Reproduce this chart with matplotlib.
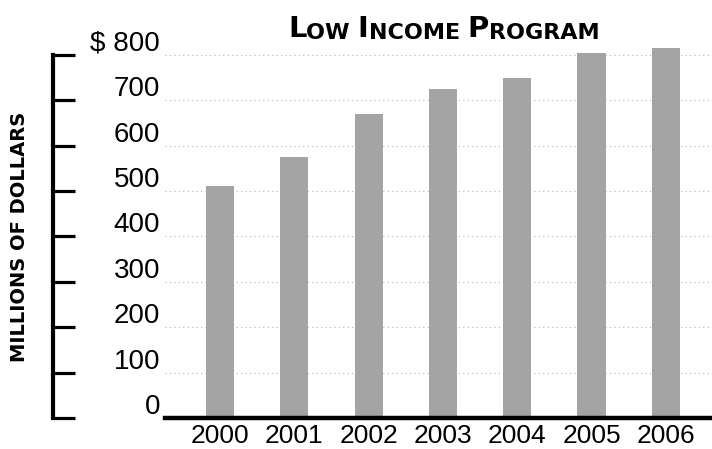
import matplotlib
matplotlib.use("Agg")
import matplotlib.pyplot as plt
import matplotlib.transforms as mtransforms

years = ["2000", "2001", "2002", "2003", "2004", "2005", "2006"]
values = [510, 575, 670, 725, 750, 805, 815]
ytick_vals = [0, 100, 200, 300, 400, 500, 600, 700, 800]
ytick_labels = ["0", "100", "200", "300", "400", "500", "600", "700", "$ 800"]
title_parts = [("L", 21), ("OW ", 16), ("I", 21), ("NCOME ", 16), ("P", 21), ("ROGRAM", 16)]
ylabel = "MILLIONS OF DOLLARS"

num_font = ["Liberation Sans Narrow", "Liberation Sans", "DejaVu Sans"]

fig = plt.figure(figsize=(7.12, 4.49), dpi=100)
ax = fig.add_axes([165 / 712, 31 / 449, 547 / 712, 0.829])

x = list(range(len(years)))
ax.bar(x, values, width=0.38, color="#a4a4a4", zorder=2)

ax.set_xlim(-0.74, 6.62)
ax.set_ylim(0, 820)

# grid
for v in ytick_vals[1:]:
    ax.axhline(v, color="#b4b4b4", lw=0.8, linestyle=(0, (1, 3)), zorder=1)

# spines
for s in ["top", "right"]:
    ax.spines[s].set_visible(False)
ax.spines["bottom"].set_linewidth(3.2)
ax.spines["bottom"].set_zorder(3)
ax.spines["left"].set_position(("outward", 112 * 0.72))
ax.spines["left"].set_bounds(0, 800)
ax.spines["left"].set_linewidth(3)
ax.spines["left"].set_capstyle("projecting")

ax.set_yticks(ytick_vals)
ax.set_yticklabels([])
ax.tick_params(axis="y", direction="in", length=16, width=2.3)

ax.set_xticks(x)
ax.set_xticklabels(years, fontfamily=num_font, fontsize=19)
ax.tick_params(axis="x", length=0, pad=4)

# y tick labels placed right of the bracket
trans = mtransforms.blended_transform_factory(ax.transAxes, ax.transData)
trans = trans + mtransforms.ScaledTranslation(-5 / 100, 11 / 100, fig.dpi_scale_trans)
for v, lab in zip(ytick_vals, ytick_labels):
    ax.text(0, v, lab, transform=trans, ha="right", va="center",
            fontfamily=num_font, fontsize=20)

# y label
fig.text(20 / 712, 1 - 237 / 449, ylabel, rotation=90, ha="center", va="center",
         fontweight="bold", fontsize=14, fontfamily="DejaVu Sans")

# small-caps title built piecewise
prev = None
start_x = 288 / 712
base_y = 1 - 37 / 449
for txt, sz in title_parts:
    if prev is None:
        prev = fig.text(start_x, base_y, txt, ha="left", va="baseline",
                        fontsize=sz, fontweight="bold", fontfamily="DejaVu Sans")
    else:
        prev = ax.annotate(txt, xy=(1, 0), xycoords=prev, xytext=(0, 0),
                           textcoords="offset points", ha="left", va="bottom",
                           fontsize=sz, fontweight="bold", fontfamily="DejaVu Sans",
                           annotation_clip=False)

fig.savefig("out.png", dpi=100)
